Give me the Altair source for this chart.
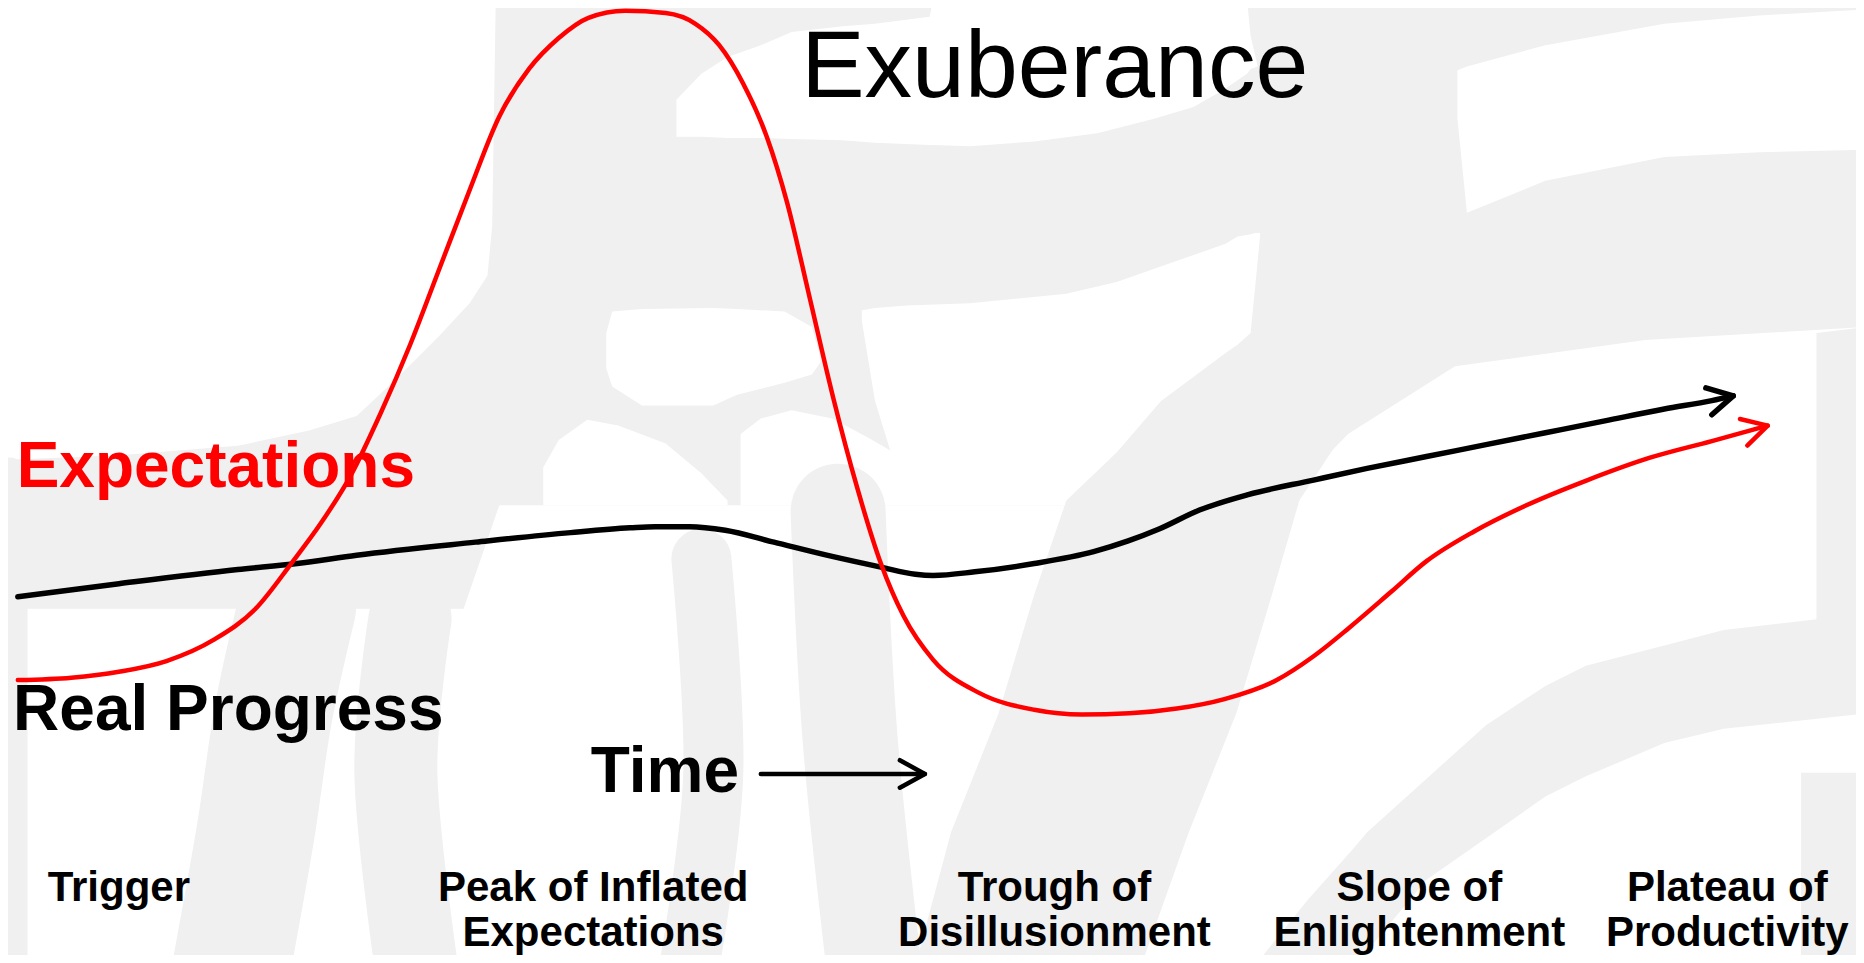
import math
import altair as alt
import pandas as pd

# ---------------- data ----------------
# x = time position, y = distance from the top of the picture (same units on both axes)
red_x = [15, 60, 100, 140, 180, 215, 245, 270, 295, 320, 345, 370, 395, 420, 445, 470, 495, 526, 560, 585,
         605, 625, 645, 662, 681, 701, 721, 741, 760, 785, 824, 870, 910, 950, 990, 1030, 1074, 1105, 1135, 1170,
         1200, 1240, 1284, 1335, 1388, 1440, 1487]
red_y = [572, 570, 565, 556, 538, 512, 474, 440, 400, 348, 290, 225, 160, 98, 58, 32, 15, 9, 11, 20,
         38, 70, 115, 170, 250, 335, 410, 474, 518, 555, 583, 597, 601, 600, 596, 588, 572, 552, 528, 498,
         472, 447, 425, 404, 385, 371, 358]

black_x = [15, 100, 200, 250, 300, 400, 480, 530, 551, 580, 610, 651, 700, 741, 770, 785, 820, 870, 920, 949,
           975, 1009, 1050, 1104, 1150, 1200, 1250, 1300, 1350, 1400, 1440, 1458]
black_y = [502, 491, 479, 474, 467, 456, 448, 444, 443, 443, 446, 456, 468, 477, 483, 484, 481, 474, 464, 455,
           445, 429, 416, 404, 394, 384, 374, 364, 354, 344, 337, 333]

time_arrow_x = [640, 778]
time_arrow_y = [651, 651]

phase_text = ["Trigger", "Peak of Inflated", "Expectations", "Trough of", "Disillusionment",
              "Slope of", "Enlightenment", "Plateau of", "Productivity"]
phase_x = [100, 499, 499, 887, 887, 1194, 1194, 1453, 1453]
phase_y = [758, 758, 796, 758, 796, 758, 796, 758, 796]

big_text = ["Expectations", "Real Progress", "Time"]
big_color = ["#ff0000", "#000000", "#000000"]
big_x = [14, 11, 497]
big_y = [410, 614, 666]

title_text = ["Exuberance"]
title_x = [674]
title_y = [82]

# watermark (light grey calligraphy) regions: (x, y_top, y_bottom) or (y, x_left, x_right)
wm_base = [(0, 0, 512), (390, 0, 512), (420, 0, 425), (700, 0, 425), (763, 0, 425), (900, 0, 425),
           (1000, 0, 412), (1100, 0, 400), (1134, 0, 365), (1224, 0, 308), (1384, 0, 286), (1570, 0, 275)]
wm_white_topleft = [(0, 0, 387), (100, 0, 383), (200, 0, 375), (260, 0, 362), (300, 0, 350), (330, 0, 322),
                    (370, 0, 282), (395, 0, 255), (410, 0, 232), (414, 0, 190), (417, 0, 0)]
wm_white_swoosh = [(569, 84, 115), (590, 62, 115), (612, 48, 116), (640, 38, 116), (666, 27, 117),
                   (709, 22, 118), (736, 20, 120), (782, 14, 122), (785, 0, 122), (816, 0, 123),
                   (870, 0, 119), (923, 0, 112), (970, 0, 100), (1004, 0, 90), (1030, 0, 75),
                   (1049, 0, 62), (1052, 30, 58), (1058, 56, 56)]
wm_white_band = [(1226, 59, 100), (1234, 56, 179), (1300, 38, 152), (1400, 20, 132), (1480, 13, 128),
                 (1570, 8, 126)]
wm_white_blob = [(510, 280, 310), (515, 262, 325), (540, 260, 341), (600, 259, 341), (620, 260, 332),
                 (660, 262, 322), (683, 275, 315), (690, 300, 305)]
wm_white_flame = [(457, 393, 425), (470, 370, 425), (494, 353, 425), (520, 358, 425), (560, 373, 425),
                  (590, 398, 425), (612, 421, 425)]
wm_white_flame2 = [(623, 365, 425), (640, 352, 425), (666, 345, 425), (700, 352, 425), (730, 368, 425),
                   (763, 387, 425)]
wm_white_mid = [(725, 261, 270), (736, 259, 337), (763, 257, 425), (816, 255, 425), (897, 247, 425),
                (940, 237, 380), (977, 224, 337), (1031, 205, 297), (1041, 199, 290), (1052, 197, 280),
                (1056, 196, 240), (1060, 196, 198)]
wm_diag = [(337, 977, 1150), (380, 940, 1120), (421, 897, 1093), (500, 870, 1070), (600, 840, 1040),
           (700, 800, 1000), (812, 770, 960)]
wm_arc = [(1059, 808, 812), (1100, 757, 812), (1140, 712, 812), (1150, 700, 800), (1200, 655, 740),
          (1250, 610, 705), (1300, 577, 670), (1334, 560, 653), (1400, 543, 625), (1450, 530, 613),
          (1570, 516, 600)]
wm_right1 = [(1528, 280, 560), (1570, 275, 560)]
wm_right2 = [(1515, 650, 812), (1570, 650, 812)]
wm_strokes = [
    ([(8, 400), (8, 812)], 36),
    ([(250, 510), (230, 600), (215, 700), (195, 812)], 118),
    ([(345, 520), (333, 650), (350, 812)], 83),
    ([(590, 470), (600, 650), (580, 812)], 60),
    ([(705, 430), (715, 620), (735, 812)], 95),
]

# ---------------- chart ----------------
GRAY = "#f0f0f0"
FONT = "Liberation Sans"
XS = alt.Scale(domain=[6.73, 1561.27], nice=False, zero=False)
YS = alt.Scale(domain=[6.73, 803.27], nice=False, zero=False, reverse=True)


def X(f="x"):
    return alt.X(f"{f}:Q", scale=XS, axis=None)


def Y(f="y"):
    return alt.Y(f"{f}:Q", scale=YS, axis=None)


def xband(pts, color):
    df = pd.DataFrame(pts, columns=["x", "y", "y2"])
    return alt.Chart(df).mark_area(color=color, opacity=1).encode(x=X(), y=Y(), y2="y2:Q")


def yband(pts, color):
    df = pd.DataFrame(pts, columns=["y", "x", "x2"])
    return alt.Chart(df).mark_area(color=color, opacity=1, orient="horizontal").encode(
        y=Y(), x=X(), x2="x2:Q")


def stroke(pts, width):
    df = pd.DataFrame(pts, columns=["x", "y"])
    df["i"] = range(len(df))
    return alt.Chart(df).mark_line(color=GRAY, strokeWidth=width, strokeCap="round",
                                   interpolate="cardinal").encode(x=X(), y=Y(), order="i:Q")


def curve(xs, ys, color, width):
    df = pd.DataFrame({"x": xs, "y": ys})
    return alt.Chart(df).mark_line(color=color, strokeWidth=width, interpolate="monotone",
                                   strokeCap="round").encode(x=X(), y=Y())


def head(xs, ys, color, width):
    ang = math.degrees(math.atan2(ys[-1] - ys[-2], xs[-1] - xs[-2])) % 360
    df = pd.DataFrame({"x": [xs[-1]], "y": [ys[-1]], "a": [ang]})
    return alt.Chart(df).mark_point(shape="M-1,-0.55L0,0L-1,0.55", size=2500, filled=False,
                                    color=color, strokeWidth=width, strokeCap="round",
                                    strokeJoin="round", opacity=1).encode(
        x=X(), y=Y(), angle=alt.Angle("a:Q", scale=None))


def texts(t, xs, ys, size, weight, align, color=None, colors=None):
    df = pd.DataFrame({"t": t, "x": xs, "y": ys})
    enc = dict(x=X(), y=Y(), text="t:N")
    kw = dict(font=FONT, fontSize=size, fontWeight=weight, align=align, baseline="alphabetic")
    if colors is not None:
        df["c"] = colors
        enc["color"] = alt.Color("c:N", scale=None)
    else:
        kw["color"] = color
    return alt.Chart(df).mark_text(**kw).encode(**enc)


layers = [
    xband(wm_base, GRAY),
    xband(wm_white_topleft, "white"),
    xband(wm_white_swoosh, "white"),
    xband(wm_white_band, "white"),
    xband(wm_white_blob, "white"),
    xband(wm_white_flame, "white"),
    xband(wm_white_flame2, "white"),
    xband(wm_white_mid, "white"),
    yband(wm_diag, GRAY),
    xband(wm_arc, GRAY),
    xband(wm_right1, GRAY),
    xband(wm_right2, GRAY),
]
layers += [stroke(p, w) for p, w in wm_strokes]
layers += [
    curve(black_x, black_y, "#000000", 5.5),
    head(black_x, black_y, "#000000", 5.5),
    curve(red_x, red_y, "#ff0000", 4.5),
    head(red_x, red_y, "#ff0000", 4.5),
    curve(time_arrow_x, time_arrow_y, "#000000", 4.5),
    head(time_arrow_x, time_arrow_y, "#000000", 4.5),
    texts(title_text, title_x, title_y, 95, "normal", "left", color="#000000"),
    texts(big_text, big_x, big_y, 64, "bold", "left", colors=big_color),
    texts(phase_text, phase_x, phase_y, 42, "bold", "center", color="#000000"),
]

chart = alt.layer(*layers).properties(
    width=1848, height=947, padding=0, autosize="none", background="white"
).configure_view(stroke=None)

chart.save("out.html", embed_options={"renderer": "svg", "actions": False})
